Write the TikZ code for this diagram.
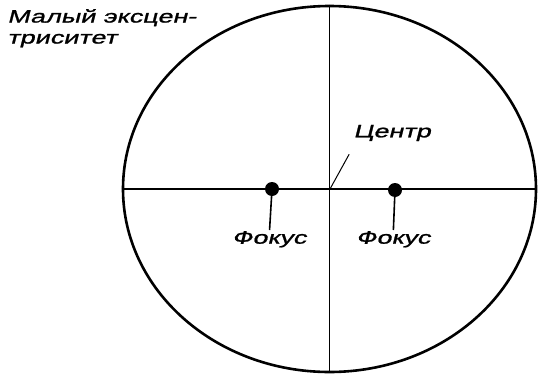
\documentclass[tikz,border=0pt]{standalone}
\usepackage{fontspec}
\newfontfamily\cyrf[FakeStretch=1.5,FakeSlant=0.25,FakeBold=1.2]{Liberation Sans}
\usetikzlibrary{shapes.geometric,positioning,calc}
\tikzset{
  orb/.style={draw,ellipse,line width=2.6pt,minimum width=413pt,
              minimum height=366pt,inner sep=0pt},
  ax/.style={line width=1.6pt},
  fdot/.style={circle,fill=black,inner sep=0pt,minimum size=14pt},
  lbl/.style={font=\fontsize{18}{21}\selectfont\cyrf,inner sep=1pt},
  lead/.style={line width=1pt},
}
\begin{document}
\begin{tikzpicture}[x=1pt,y=-1pt]
    \useasboundingbox (0,0) rectangle (541,375);
    % --- orbit and its axes ---
    \node[orb] (orb) at (329.5,189) {};
    \coordinate (ctr) at (330,189);
    \draw[ax] (orb.north) -- (orb.south);
    \draw[ax] (orb.west) -- (orb.east);
    % --- foci ---
    \node[fdot] (f1) at (272,189) {};
    \node[fdot] (f2) at (395,190) {};
    \node[lbl,anchor=north] (lf1) at (269,230) {Фокус};
    \node[lbl,anchor=north] (lf2) at (393,230) {Фокус};
    \draw[ax] (f1) -- (lf1);
    \draw[ax] (f2) -- (lf2);
    % --- centre ---
    \node[lbl] (lc) at (392,133) {Центр};
    \draw[lead] ($(lc.south west)+(-3,12)$) -- (ctr);
    % --- caption top left ---
    \node[lbl,anchor=north west,align=left] (cap) at (6,8)
      {Малый эксцен-\\триситет};
\end{tikzpicture}
\end{document}
